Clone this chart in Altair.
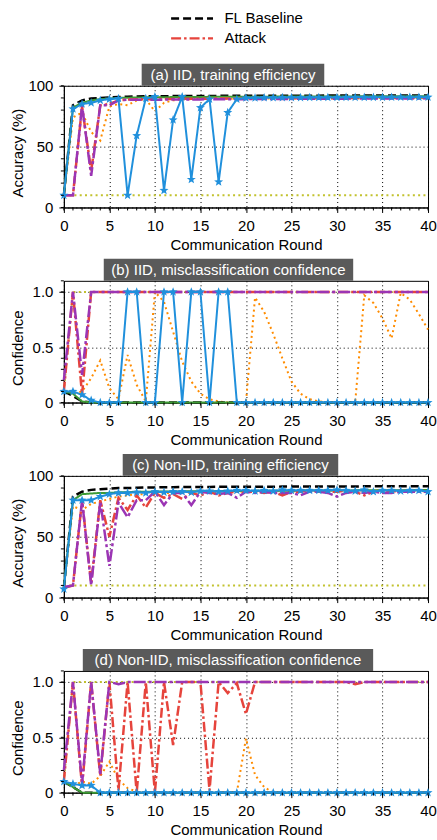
import math
import altair as alt
import pandas as pd

FONT = "Liberation Sans"
ROUNDS = list(range(41))

NAMES = ["FL Baseline", "Attack", "Series 3", "Series 4", "Series 5", "Series 6", "Series 7"]
COLORS = ["#000000", "#e6443c", "#9b35b4", "#ff8c00", "#c2c22e", "#3d9b35", "#2090dc"]
DASHES = [[8, 4], [10, 3, 2.5, 3], [12, 3, 3, 3], [2, 3.3], [2, 3.3], [1, 0], [1, 0]]
WIDTHS = [2.5, 2.5, 2.5, 2, 2, 2, 2]
DRAW_ORDER = ["Series 5", "Series 4", "FL Baseline", "Series 6", "Attack", "Series 3", "Series 7"]

# ---------------- (a) IID, training efficiency ----------------
A_BASE = [10, 84, 88, 89.5, 90, 90.5, 90.8, 91, 91.2, 91.3,
          91.4, 91.4, 91.5, 91.5, 91.6, 91.6, 91.6, 91.7, 91.7, 91.7,
          91.8, 91.8, 91.8, 91.8, 91.9, 91.9, 91.9, 91.9, 91.9, 92,
          92, 92, 92, 92, 92, 92.1, 92.1, 92.1, 92.1, 92.1,
          92.1]
A_ATTACK = [10, 10, 83, 30, 84, 85, 88, 88.7, 89, 89,
            89, 89.2, 89.2, 89.3, 89.3, 89.4, 89.4, 89.5, 89.5, 89.5,
            89.6, 89.6, 89.6, 89.7, 89.7, 89.7, 89.8, 89.8, 89.8, 89.8,
            89.9, 89.9, 89.9, 89.9, 90, 90, 90, 90, 90, 90,
            90]
A_PURPLE = [10, 10, 84, 26, 84, 84, 88, 88.5, 88.5, 88.5,
            88.6, 88.6, 88.7, 88.7, 88.8, 88.8, 88.9, 88.9, 89, 89,
            89, 89.1, 89.1, 89.2, 89.2, 89.2, 89.3, 89.3, 89.3, 89.4,
            89.4, 89.4, 89.5, 89.5, 89.5, 89.5, 89.6, 89.6, 89.6, 89.6,
            89.7]
A_ORANGE = [10, 74, 78, 62, 55, 83, 85, 84, 88, 89,
            79, 86, 88, 89, 89, 89.2, 89.3, 89.3, 89.4, 89.4,
            89.5, 89.5, 89.5, 89.6, 89.6, 89.6, 89.7, 89.7, 89.7, 89.7,
            89.8, 89.8, 89.8, 89.8, 89.9, 89.9, 89.9, 89.9, 90, 90,
            90]
A_OLIVE = [10, 10, 10, 10, 10, 10, 10, 10, 10, 10,
           10, 10, 10, 10, 10, 10, 10, 10, 10, 10,
           10, 10, 10, 10, 10, 10, 10, 10, 10, 10,
           10, 10, 10, 10, 10, 10, 10, 10, 10, 10,
           10]
A_GREEN = [10, 82, 86, 88, 89, 89.5, 90, 90.2, 90.4, 90.5,
           90.6, 90.6, 90.7, 90.7, 90.8, 90.8, 90.9, 90.9, 90.9, 91,
           91, 91, 91, 91.1, 91.1, 91.1, 91.1, 91.2, 91.2, 91.2,
           91.2, 91.2, 91.3, 91.3, 91.3, 91.3, 91.3, 91.3, 91.3, 91.3,
           91.3]
A_BLUE = [10, 81, 85, 86, 88, 89, 89.5, 10, 59, 89.5,
          91, 14, 72, 91, 23, 82, 89, 21, 78, 89,
          90, 90, 90.2, 90.2, 90.3, 90.3, 90.3, 90.4, 90.4, 90.4,
          90.4, 90.5, 90.5, 90.5, 90.5, 90.5, 90.6, 90.6, 90.6, 90.6,
          90.6]

# ---------------- (b) IID, misclassification confidence ----------------
B_BASE = [0.1, 0.06, 0.01, 0, 0, 0, 0, 0, 0, 0,
          0, 0, 0, 0, 0, 0, 0, 0, 0, 0,
          0, 0, 0, 0, 0, 0, 0, 0, 0, 0,
          0, 0, 0, 0, 0, 0, 0, 0, 0, 0,
          0]
B_ATTACK = [0.1, 1, 0.07, 1, 1, 1, 1, 1, 1, 1,
            1, 1, 1, 1, 1, 1, 1, 1, 1, 1,
            1, 1, 1, 1, 1, 1, 1, 1, 1, 1,
            1, 1, 1, 1, 1, 1, 1, 1, 1, 1,
            1]
B_PURPLE = [0.2, 1, 0.25, 1, 1, 1, 1, 1, 1, 1,
            1, 1, 1, 1, 1, 1, 1, 1, 1, 1,
            1, 1, 1, 1, 1, 1, 1, 1, 1, 1,
            1, 1, 1, 1, 1, 1, 1, 1, 1, 1,
            1]
B_ORANGE = [0.1, 0.08, 0.1, 0.22, 0.38, 0.13, 0.03, 0.43, 0.16, 0.01,
            1.0, 0.91, 0.64, 0.37, 0.19, 0.08, 0.03, 0.01, 0, 0,
            0, 0.95, 0.82, 0.62, 0.4, 0.19, 0.08, 0.03, 0.01, 0,
            0, 0, 0, 0.97, 0.9, 0.76, 0.58, 0.99, 0.93, 0.8,
            0.66]
B_OLIVE = [0.1, 1, 1, 1, 1, 1, 1, 1, 1, 1,
           1, 1, 1, 1, 1, 1, 1, 1, 1, 1,
           1, 1, 1, 1, 1, 1, 1, 1, 1, 1,
           1, 1, 1, 1, 1, 1, 1, 1, 1, 1,
           1]
B_GREEN = [0.1, 0.08, 0.01, 0, 0, 0, 0, 0, 0, 0,
           0, 0, 0, 0, 0, 0, 0, 0, 0, 0,
           0, 0, 0, 0, 0, 0, 0, 0, 0, 0,
           0, 0, 0, 0, 0, 0, 0, 0, 0, 0,
           0]
B_BLUE = [0.1, 0.1, 0.07, 0.02, 0, 0, 0, 1, 1, 0,
          0, 1, 1, 0, 1, 1, 0, 1, 1, 0,
          0, 0, 0, 0, 0, 0, 0, 0, 0, 0,
          0, 0, 0, 0, 0, 0, 0, 0, 0, 0,
          0]

# ---------------- (c) Non-IID, training efficiency ----------------
C_BASE = [8, 83, 87, 88.5, 89, 89.5, 90, 90, 90.3, 90.5,
          90.5, 90.7, 90.7, 90.8, 90.8, 90.9, 90.9, 91, 91, 91,
          91, 91.1, 91.1, 91.1, 91.2, 91.2, 91.2, 91.2, 91.3, 91.3,
          91.3, 91.3, 91.3, 91.4, 91.4, 91.4, 91.4, 91.4, 91.5, 91.5,
          91.5]
C_ATTACK = [8, 10, 80, 12, 80, 50, 82, 72, 84, 74,
            86, 82, 85, 81, 86, 84, 87, 84, 86, 87,
            87, 87, 86, 87, 84, 87, 87, 88, 87, 87,
            87, 88, 87, 84, 87, 88, 87, 88, 87, 88,
            87]
C_PURPLE = [8.7, 10, 80, 10, 79, 26, 78, 66, 80, 80,
            87, 76, 86, 86, 76, 87, 86, 85, 86, 82,
            87, 86, 87, 86, 86, 86, 84, 87, 87, 86,
            83, 86, 87, 86, 87, 86, 86, 87, 87, 87,
            87]
C_ORANGE = [8, 75, 72, 77, 79, 81, 83, 84, 85, 85,
            86, 86, 86, 87, 86, 87, 87, 87, 86, 87,
            87, 88, 87, 87, 88, 87, 88, 88, 87, 88,
            88, 88, 87, 88, 88, 88, 88, 88, 88, 88,
            88]
C_OLIVE = [10, 10, 10, 10, 10, 10, 10, 10, 10, 10,
           10, 10, 10, 10, 10, 10, 10, 10, 10, 10,
           10, 10, 10, 10, 10, 10, 10, 10, 10, 10,
           10, 10, 10, 10, 10, 10, 10, 10, 10, 10,
           10]
C_GREEN = [8, 80, 85, 85.5, 86, 86, 86.5, 86.5, 87, 87,
           87, 87.2, 87.2, 87.3, 87.3, 87.4, 87.4, 87.5, 87.5, 87.6,
           87.6, 87.7, 87.7, 87.8, 87.8, 87.8, 87.9, 87.9, 87.9, 88,
           88, 88, 88.1, 88.1, 88.1, 88.2, 88.2, 88.2, 88.3, 88.3,
           88.3]
C_BLUE = [7, 80, 80, 80, 83, 85, 86, 86, 86.5, 86,
          87, 86.5, 87, 87, 86.5, 87.5, 87.5, 87, 87.5, 88,
          88, 87.5, 88, 87.5, 88.5, 88, 88, 88, 88, 88,
          88.5, 88, 87.5, 88.5, 87, 88, 88, 87.5, 88, 88,
          87]

# ---------------- (d) Non-IID, misclassification confidence ----------------
D_BASE = [0.1, 0.05, 0, 0, 0, 0, 0, 0, 0, 0,
          0, 0, 0, 0, 0, 0, 0, 0, 0, 0,
          0, 0, 0, 0, 0, 0, 0, 0, 0, 0,
          0, 0, 0, 0, 0, 0, 0, 0, 0, 0,
          0]
D_ATTACK = [0.1, 1, 0.05, 1, 0.15, 1, 0.02, 1, 0, 1,
            0, 1, 0.43, 1, 1, 1, 0.02, 1, 0.9, 0.99,
            0.71, 1, 1, 1, 1, 1, 1, 1, 1, 1,
            1, 1, 0.98, 1, 1, 1, 1, 1, 1, 1,
            1]
D_PURPLE = [0.2, 1, 0.08, 1, 0.17, 1, 0.98, 1, 1, 1,
            1, 1, 1, 1, 1, 1, 1, 1, 1, 1,
            1, 1, 1, 1, 1, 1, 1, 1, 1, 1,
            1, 1, 1, 1, 1, 1, 1, 1, 1, 1,
            1]
D_ORANGE = [0.1, 0.06, 0.1, 0.08, 0.15, 0.28, 0.12, 0.04, 0.01, 0,
            0, 0, 0, 0, 0, 0, 0, 0, 0, 0,
            0.49, 0.16, 0.05, 0, 0, 0, 0, 0, 0, 0,
            0, 0, 0, 0, 0, 0, 0, 0, 0, 0,
            0]
D_OLIVE = [0.1, 1, 1, 1, 1, 1, 1, 1, 1, 1,
           1, 1, 1, 1, 1, 1, 1, 1, 1, 1,
           1, 1, 1, 1, 1, 1, 1, 1, 1, 1,
           1, 1, 1, 1, 1, 1, 1, 1, 1, 1,
           1]
D_GREEN = [0.1, 0.05, 0, 0, 0, 0, 0, 0, 0, 0,
           0, 0, 0, 0, 0, 0, 0, 0, 0, 0,
           0, 0, 0, 0, 0, 0, 0, 0, 0, 0,
           0, 0, 0, 0, 0, 0, 0, 0, 0, 0,
           0]
D_BLUE = [0.1, 0.08, 0.065, 0.065, 0, 0, 0, 0, 0, 0,
          0, 0, 0, 0, 0, 0, 0, 0, 0, 0,
          0, 0, 0, 0, 0, 0, 0, 0, 0, 0,
          0, 0, 0, 0, 0, 0, 0, 0, 0, 0,
          0]

PANEL_TITLES = ["(a) IID, training efficiency",
                "(b) IID, misclassification confidence",
                "(c) Non-IID, training efficiency",
                "(d) Non-IID, misclassification confidence"]
X_MAJOR = [0, 5, 10, 15, 20, 25, 30, 35, 40]
ACC_MAJOR = [0, 50, 100]
ACC_MINOR = [0, 10, 20, 30, 40, 50, 60, 70, 80, 90, 100]
CONF_MAJOR = [0, 0.5, 1.0]
CONF_MINOR = [0, 0.1, 0.2, 0.3, 0.4, 0.5, 0.6, 0.7, 0.8, 0.9, 1.0, 1.1]

W, H = 365, 122

# star symbol (unit square path)
_pts = []
for i in range(10):
    r = 1.0 if i % 2 == 0 else 0.42
    a = -math.pi / 2 + i * math.pi / 5
    _pts.append(f"{r * math.cos(a):.3f},{r * math.sin(a):.3f}")
STAR = "M" + " L".join(_pts) + " Z"

LEGEND = alt.Legend(orient="none", legendX=117, legendY=-79, title=None,
                    values=["FL Baseline", "Attack"], symbolType="M-2.1,0L2.1,0",
                    symbolSize=400, symbolStrokeWidth=2.5, labelFontSize=15,
                    labelFont=FONT, labelColor="black", rowPadding=0, labelOffset=21)
COLOR = alt.Color("series:N", scale=alt.Scale(domain=NAMES, range=COLORS), legend=LEGEND)
DASH = alt.StrokeDash("series:N", scale=alt.Scale(domain=NAMES, range=DASHES), legend=LEGEND)


def panel(series_vals, title, box, is_conf):
    rows = []
    for name, vals in zip(NAMES, series_vals):
        assert len(vals) == 41
        for r, v in zip(ROUNDS, vals):
            rows.append({"round": r, "value": v, "series": name})
    df = pd.DataFrame(rows)

    X = alt.X("round:Q", scale=alt.Scale(domain=[0, 40], nice=False, zero=False),
              axis=alt.Axis(values=X_MAJOR, title="Communication Round", grid=True,
                            titlePadding=4, labelFlush=False))
    if is_conf:
        Y = alt.Y("value:Q", scale=alt.Scale(domain=[0, 1.1], nice=False),
                  axis=alt.Axis(values=CONF_MAJOR, title="Confidence", grid=True,
                                titleX=-38, titleY=H / 2 + 6, labelFlush=False,
                                labelExpr="datum.value == 0 ? '0' : format(datum.value, '.1f')"))
        yminor = CONF_MINOR
    else:
        Y = alt.Y("value:Q", scale=alt.Scale(domain=[0, 100], nice=False),
                  axis=alt.Axis(values=ACC_MAJOR, title="Accuracy (%)", grid=True,
                                titleX=-38, titleY=H / 2 + 6, labelFlush=False))
        yminor = ACC_MINOR

    layers = []
    for name in DRAW_ORDER:
        idx = NAMES.index(name)
        layers.append(
            alt.Chart(df).transform_filter(alt.datum.series == name)
            .mark_line(strokeWidth=WIDTHS[idx], strokeCap="butt")
            .encode(x=X, y=Y, color=COLOR, strokeDash=DASH)
        )
    layers.append(
        alt.Chart(df).transform_filter(alt.datum.series == "Series 7")
        .mark_point(shape=STAR, filled=True, size=90, color="#2090dc", opacity=1)
        .encode(x=X, y=Y)
    )
    layers.append(
        alt.Chart(pd.DataFrame({"round": ROUNDS})).mark_rule(color="black", strokeWidth=1)
        .encode(x=X, y=alt.value(H), y2=alt.value(H + 3))
    )
    layers.append(
        alt.Chart(pd.DataFrame({"value": yminor})).mark_rule(color="black", strokeWidth=1)
        .encode(y=Y, x=alt.value(0), x2=alt.value(-3))
    )
    tdf = pd.DataFrame({"t": [title]})
    layers.append(
        alt.Chart(tdf).mark_rect(color="#5a5a5a")
        .encode(x=alt.value(box[0]), x2=alt.value(box[1]), y=alt.value(-22), y2=alt.value(0))
    )
    layers.append(
        alt.Chart(tdf).mark_text(color="white", fontSize=15, font=FONT, align="center", baseline="middle")
        .encode(x=alt.value((box[0] + box[1]) / 2), y=alt.value(-10.5), text="t:N")
    )
    return alt.layer(*layers).properties(width=W, height=H)


pa = panel([A_BASE, A_ATTACK, A_PURPLE, A_ORANGE, A_OLIVE, A_GREEN, A_BLUE], PANEL_TITLES[0], (78, 261), False)
pb = panel([B_BASE, B_ATTACK, B_PURPLE, B_ORANGE, B_OLIVE, B_GREEN, B_BLUE], PANEL_TITLES[1], (40, 290), True)
pc = panel([C_BASE, C_ATTACK, C_PURPLE, C_ORANGE, C_OLIVE, C_GREEN, C_BLUE], PANEL_TITLES[2], (59, 275), False)
pd_ = panel([D_BASE, D_ATTACK, D_PURPLE, D_ORANGE, D_OLIVE, D_GREEN, D_BLUE], PANEL_TITLES[3], (19, 310), True)

chart = (
    alt.vconcat(pa, pb, pc, pd_, spacing=73.5, bounds="flush")
    .properties(padding={"left": 10, "top": 6, "right": 0, "bottom": 0})
    .configure_view(stroke="black", strokeWidth=1)
    .configure_axis(labelFont=FONT, labelFontSize=15, labelColor="black",
                    titleFont=FONT, titleFontSize=15, titleFontWeight="normal", titleColor="black",
                    domainColor="black", domainWidth=1, tickColor="black", tickSize=5, tickWidth=1,
                    gridColor="black", gridDash=[1, 3], gridOpacity=1, gridWidth=1, labelPadding=6)
)

chart.save("out.html", embed_options={"renderer": "svg", "actions": False})
